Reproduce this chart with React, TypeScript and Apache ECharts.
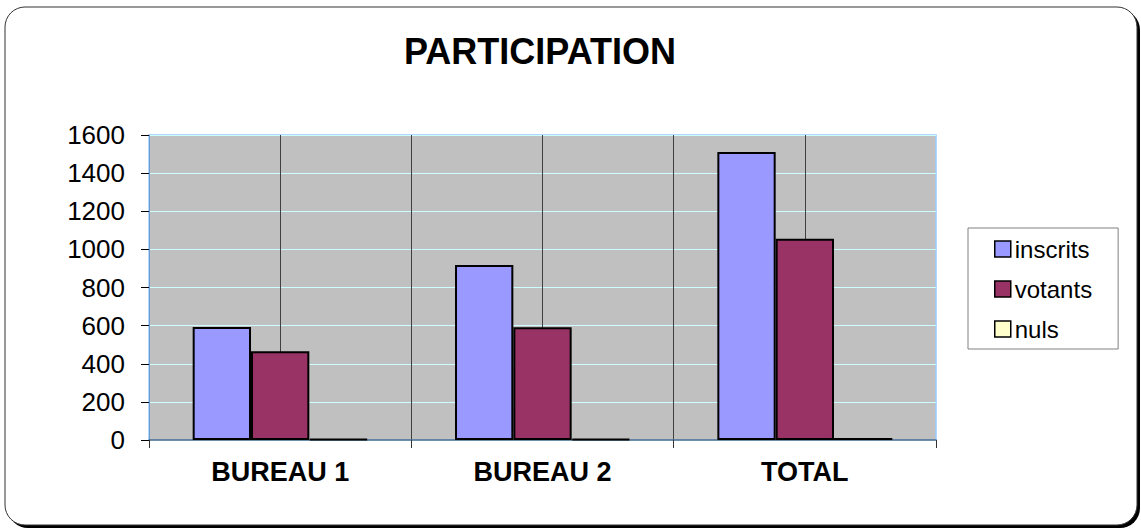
import React, { useEffect, useRef } from "react";
import * as echarts from "echarts";

const categories = ["BUREAU 1", "BUREAU 2", "TOTAL"];
const inscrits = [593, 918, 1511];
const votants = [465, 591, 1056];
const nuls = [5, 6, 11];
const seriesNames = ["inscrits", "votants", "nuls"];
const seriesColors = ["#9999ff", "#993366", "#ffffcc"];

export default function App() {
  const ref = useRef<HTMLDivElement>(null);
  useEffect(() => {
    document.body.style.margin = "0";
    const chart = echarts.init(ref.current!, null, { renderer: "svg" });
    const values = [inscrits, votants, nuls];
    const font = "'Liberation Sans', Arial, sans-serif";
    chart.setOption({
      animation: false,
      backgroundColor: "transparent",
      graphic: [
        {
          type: "rect",
          z: -10,
          silent: true,
          shape: { x: 8, y: 10, width: 1132, height: 518, r: 20 },
          style: { fill: "#000" },
        },
        {
          type: "rect",
          z: -9,
          silent: true,
          shape: { x: 5, y: 7, width: 1132, height: 518, r: 20 },
          style: { fill: "#fff", stroke: "#333", lineWidth: 1 },
        },
      ],
      title: {
        text: "PARTICIPATION",
        left: 399,
        top: 28,
        textStyle: { fontFamily: font, fontSize: 36, fontWeight: "bold", color: "#000" },
      },
      legend: {
        orient: "vertical",
        left: 968,
        top: 228,
        padding: [9, 26, 8, 26],
        itemGap: 16,
        itemWidth: 16,
        itemHeight: 16,
        icon: "rect",
        borderColor: "#808080",
        borderWidth: 1,
        backgroundColor: "#fff",
        itemStyle: { borderColor: "#000", borderWidth: 1.5 },
        textStyle: { fontFamily: font, fontSize: 24, color: "#000", padding: [0, 0, 0, -1] },
        data: seriesNames,
      },
      grid: {
        left: 149,
        top: 135,
        width: 787,
        height: 305,
        show: true,
        backgroundColor: "#c0c0c0",
        borderColor: "#99ccff",
        borderWidth: 1.5,
      },
      xAxis: [
        {
          type: "category",
          data: categories,
          axisLine: { lineStyle: { color: "#4d6b8c", width: 1.5 } },
          axisTick: { show: true, length: 8, lineStyle: { color: "#333" } },
          axisLabel: {
            margin: 18,
            fontFamily: font,
            fontSize: 27,
            fontWeight: "bold",
            color: "#000",
          },
          splitLine: { show: false },
        },
        {
          type: "value",
          min: 0,
          max: 6,
          interval: 1,
          position: "bottom",
          axisLine: { show: false },
          axisTick: { show: false },
          axisLabel: { show: false },
          splitLine: {
            show: true,
            showMinLine: false,
            showMaxLine: false,
            lineStyle: { color: "#404040", width: 1 },
          },
        },
      ],
      yAxis: {
        type: "value",
        min: 0,
        max: 1600,
        interval: 200,
        axisLine: { show: true, lineStyle: { color: "#6a9ad4", width: 1 } },
        axisTick: { show: true, length: 8, lineStyle: { color: "#000" } },
        axisLabel: {
          margin: 24,
          fontFamily: font,
          fontSize: 26,
          color: "#000",
          formatter: (v: number) => String(v),
        },
        splitLine: { show: true, lineStyle: { color: "#ccffff", width: 1 } },
      },
      series: seriesNames.map((name, i) => ({
        name,
        type: "bar",
        xAxisIndex: 0,
        data: values[i],
        barGap: "0%",
        barCategoryGap: "33.3%",
        itemStyle: { color: seriesColors[i], borderColor: "#000", borderWidth: 2 },
        z: 3,
      })),
    });
    return () => chart.dispose();
  }, []);
  return (
    <div
      ref={ref}
      style={{ position: "absolute", left: 0, top: 0, width: 1141, height: 529 }}
    />
  );
}
